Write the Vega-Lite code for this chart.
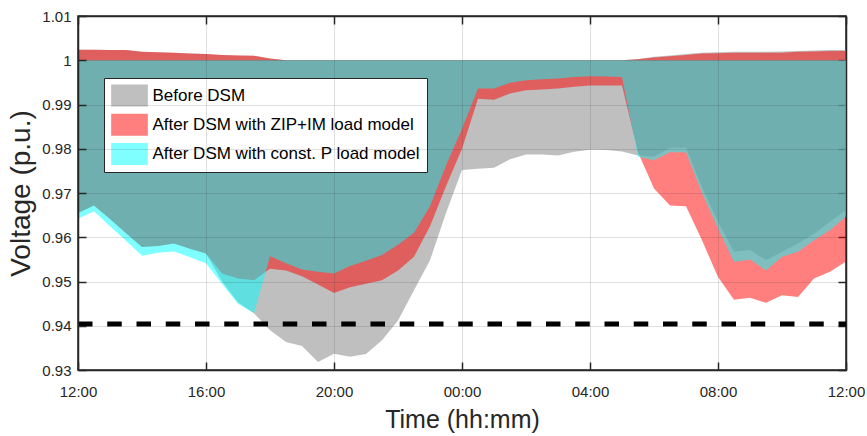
{
  "$schema": "https://vega.github.io/schema/vega-lite/v6.json",
  "width": 768,
  "height": 354,
  "autosize": {"type": "none"},
  "padding": {"left": 78, "top": 16, "right": 21, "bottom": 66},
  "background": "white",
  "config": {
    "font": "Liberation Sans",
    "view": {"stroke": "#262626", "strokeWidth": 1.5},
    "axis": {
      "labelFont": "Liberation Sans",
      "titleFont": "Liberation Sans",
      "labelColor": "#262626",
      "titleColor": "#262626",
      "titleFontWeight": "normal",
      "domainColor": "#262626",
      "domainWidth": 1.5,
      "tickColor": "#262626",
      "tickWidth": 1.5,
      "gridColor": "#262626",
      "gridOpacity": 0.15,
      "gridWidth": 1
    }
  },
  "data": {
    "values": [
      {"t": "2020-01-01T12:00", "before_lo": 0.9655, "before_hi": 1.0024, "zip_lo": 0.9655, "zip_hi": 1.0024, "constp_lo": 0.9642, "constp_hi": 1},
      {"t": "2020-01-01T12:30", "before_lo": 0.9672, "before_hi": 1.0024, "zip_lo": 0.9672, "zip_hi": 1.0024, "constp_lo": 0.9659, "constp_hi": 1},
      {"t": "2020-01-01T13:00", "before_lo": 0.9641, "before_hi": 1.0023, "zip_lo": 0.9641, "zip_hi": 1.0023, "constp_lo": 0.9625, "constp_hi": 1},
      {"t": "2020-01-01T13:30", "before_lo": 0.9609, "before_hi": 1.0023, "zip_lo": 0.9609, "zip_hi": 1.0023, "constp_lo": 0.9592, "constp_hi": 1},
      {"t": "2020-01-01T14:00", "before_lo": 0.9578, "before_hi": 1.0019, "zip_lo": 0.9578, "zip_hi": 1.0019, "constp_lo": 0.9558, "constp_hi": 1},
      {"t": "2020-01-01T14:30", "before_lo": 0.9580, "before_hi": 1.0018, "zip_lo": 0.9580, "zip_hi": 1.0018, "constp_lo": 0.9565, "constp_hi": 1},
      {"t": "2020-01-01T15:00", "before_lo": 0.9586, "before_hi": 1.0017, "zip_lo": 0.9586, "zip_hi": 1.0017, "constp_lo": 0.9568, "constp_hi": 1},
      {"t": "2020-01-01T15:30", "before_lo": 0.9574, "before_hi": 1.0015, "zip_lo": 0.9574, "zip_hi": 1.0015, "constp_lo": 0.9555, "constp_hi": 1},
      {"t": "2020-01-01T16:00", "before_lo": 0.9563, "before_hi": 1.0014, "zip_lo": 0.9563, "zip_hi": 1.0014, "constp_lo": 0.9541, "constp_hi": 1},
      {"t": "2020-01-01T16:30", "before_lo": 0.9500, "before_hi": 1.0012, "zip_lo": 0.9518, "zip_hi": 1.0012, "constp_lo": 0.9495, "constp_hi": 1},
      {"t": "2020-01-01T17:00", "before_lo": 0.9453, "before_hi": 1.0011, "zip_lo": 0.9507, "zip_hi": 1.0011, "constp_lo": 0.9450, "constp_hi": 1},
      {"t": "2020-01-01T17:30", "before_lo": 0.9428, "before_hi": 1.0010, "zip_lo": 0.9503, "zip_hi": 1.0010, "constp_lo": 0.9428, "constp_hi": 1},
      {"t": "2020-01-01T18:00", "before_lo": 0.9390, "before_hi": 1.0004, "zip_lo": 0.9529, "zip_hi": 1.0004, "constp_lo": 0.9557, "constp_hi": 1},
      {"t": "2020-01-01T18:30", "before_lo": 0.9363, "before_hi": 1.0000, "zip_lo": 0.9525, "zip_hi": 1.0000, "constp_lo": 0.9541, "constp_hi": 1},
      {"t": "2020-01-01T19:00", "before_lo": 0.9354, "before_hi": 1, "zip_lo": 0.9512, "zip_hi": 1, "constp_lo": 0.9527, "constp_hi": 1},
      {"t": "2020-01-01T19:30", "before_lo": 0.9318, "before_hi": 1, "zip_lo": 0.9493, "zip_hi": 1, "constp_lo": 0.9522, "constp_hi": 1},
      {"t": "2020-01-01T20:00", "before_lo": 0.9337, "before_hi": 1, "zip_lo": 0.9474, "zip_hi": 1, "constp_lo": 0.9518, "constp_hi": 1},
      {"t": "2020-01-01T20:30", "before_lo": 0.9330, "before_hi": 1, "zip_lo": 0.9487, "zip_hi": 1, "constp_lo": 0.9535, "constp_hi": 1},
      {"t": "2020-01-01T21:00", "before_lo": 0.9336, "before_hi": 1, "zip_lo": 0.9495, "zip_hi": 1, "constp_lo": 0.9547, "constp_hi": 1},
      {"t": "2020-01-01T21:30", "before_lo": 0.9367, "before_hi": 1, "zip_lo": 0.9503, "zip_hi": 1, "constp_lo": 0.9560, "constp_hi": 1},
      {"t": "2020-01-01T22:00", "before_lo": 0.9412, "before_hi": 1, "zip_lo": 0.9525, "zip_hi": 1, "constp_lo": 0.9583, "constp_hi": 1},
      {"t": "2020-01-01T22:30", "before_lo": 0.9480, "before_hi": 1, "zip_lo": 0.9556, "zip_hi": 1, "constp_lo": 0.9610, "constp_hi": 1},
      {"t": "2020-01-01T23:00", "before_lo": 0.9548, "before_hi": 1, "zip_lo": 0.9625, "zip_hi": 1, "constp_lo": 0.9670, "constp_hi": 1},
      {"t": "2020-01-01T23:30", "before_lo": 0.9655, "before_hi": 1, "zip_lo": 0.9715, "zip_hi": 1, "constp_lo": 0.9762, "constp_hi": 1},
      {"t": "2020-01-02T00:00", "before_lo": 0.9752, "before_hi": 1, "zip_lo": 0.9800, "zip_hi": 1, "constp_lo": 0.9845, "constp_hi": 1},
      {"t": "2020-01-02T00:30", "before_lo": 0.9755, "before_hi": 1, "zip_lo": 0.9913, "zip_hi": 1, "constp_lo": 0.9936, "constp_hi": 1},
      {"t": "2020-01-02T01:00", "before_lo": 0.9757, "before_hi": 1, "zip_lo": 0.9911, "zip_hi": 1, "constp_lo": 0.9936, "constp_hi": 1},
      {"t": "2020-01-02T01:30", "before_lo": 0.9776, "before_hi": 1, "zip_lo": 0.9925, "zip_hi": 1, "constp_lo": 0.9949, "constp_hi": 1},
      {"t": "2020-01-02T02:00", "before_lo": 0.9787, "before_hi": 1, "zip_lo": 0.9932, "zip_hi": 1, "constp_lo": 0.9955, "constp_hi": 1},
      {"t": "2020-01-02T02:30", "before_lo": 0.9787, "before_hi": 1, "zip_lo": 0.9934, "zip_hi": 1, "constp_lo": 0.9957, "constp_hi": 1},
      {"t": "2020-01-02T03:00", "before_lo": 0.9785, "before_hi": 1, "zip_lo": 0.9936, "zip_hi": 1, "constp_lo": 0.9959, "constp_hi": 1},
      {"t": "2020-01-02T03:30", "before_lo": 0.9793, "before_hi": 1, "zip_lo": 0.9940, "zip_hi": 1, "constp_lo": 0.9962, "constp_hi": 1},
      {"t": "2020-01-02T04:00", "before_lo": 0.9798, "before_hi": 1, "zip_lo": 0.9943, "zip_hi": 1, "constp_lo": 0.9964, "constp_hi": 1},
      {"t": "2020-01-02T04:30", "before_lo": 0.9797, "before_hi": 1, "zip_lo": 0.9943, "zip_hi": 1, "constp_lo": 0.9963, "constp_hi": 1},
      {"t": "2020-01-02T05:00", "before_lo": 0.9794, "before_hi": 1, "zip_lo": 0.9943, "zip_hi": 1, "constp_lo": 0.9962, "constp_hi": 1},
      {"t": "2020-01-02T05:30", "before_lo": 0.9785, "before_hi": 1.0003, "zip_lo": 0.9792, "zip_hi": 1.0002, "constp_lo": 0.9782, "constp_hi": 1},
      {"t": "2020-01-02T06:00", "before_lo": 0.9782, "before_hi": 1.0008, "zip_lo": 0.9710, "zip_hi": 1.0006, "constp_lo": 0.9774, "constp_hi": 1},
      {"t": "2020-01-02T06:30", "before_lo": 0.9802, "before_hi": 1.0011, "zip_lo": 0.9672, "zip_hi": 1.0009, "constp_lo": 0.9792, "constp_hi": 1},
      {"t": "2020-01-02T07:00", "before_lo": 0.9802, "before_hi": 1.0014, "zip_lo": 0.9670, "zip_hi": 1.0012, "constp_lo": 0.9792, "constp_hi": 1},
      {"t": "2020-01-02T07:30", "before_lo": 0.9712, "before_hi": 1.0017, "zip_lo": 0.9593, "zip_hi": 1.0015, "constp_lo": 0.9700, "constp_hi": 1},
      {"t": "2020-01-02T08:00", "before_lo": 0.9635, "before_hi": 1.0018, "zip_lo": 0.9510, "zip_hi": 1.0016, "constp_lo": 0.9620, "constp_hi": 1},
      {"t": "2020-01-02T08:30", "before_lo": 0.9567, "before_hi": 1.0019, "zip_lo": 0.9459, "zip_hi": 1.0017, "constp_lo": 0.9544, "constp_hi": 1},
      {"t": "2020-01-02T09:00", "before_lo": 0.9571, "before_hi": 1.0019, "zip_lo": 0.9463, "zip_hi": 1.0017, "constp_lo": 0.9550, "constp_hi": 1},
      {"t": "2020-01-02T09:30", "before_lo": 0.9548, "before_hi": 1.0019, "zip_lo": 0.9452, "zip_hi": 1.0017, "constp_lo": 0.9525, "constp_hi": 1},
      {"t": "2020-01-02T10:00", "before_lo": 0.9567, "before_hi": 1.0020, "zip_lo": 0.9469, "zip_hi": 1.0017, "constp_lo": 0.9556, "constp_hi": 1},
      {"t": "2020-01-02T10:30", "before_lo": 0.9586, "before_hi": 1.0021, "zip_lo": 0.9465, "zip_hi": 1.0019, "constp_lo": 0.9567, "constp_hi": 1},
      {"t": "2020-01-02T11:00", "before_lo": 0.9608, "before_hi": 1.0022, "zip_lo": 0.9507, "zip_hi": 1.0020, "constp_lo": 0.9593, "constp_hi": 1},
      {"t": "2020-01-02T11:30", "before_lo": 0.9635, "before_hi": 1.0023, "zip_lo": 0.9522, "zip_hi": 1.0021, "constp_lo": 0.9616, "constp_hi": 1},
      {"t": "2020-01-02T12:00", "before_lo": 0.9661, "before_hi": 1.0023, "zip_lo": 0.9545, "zip_hi": 1.0021, "constp_lo": 0.9647, "constp_hi": 1}
    ]
  },
  "resolve": {"axis": {"x": "independent", "y": "independent"}},
  "layer": [
    {
      "layer": [
        {
          "mark": {"type": "area", "opacity": 0.5},
          "encoding": {
            "x": {
              "field": "t", "type": "temporal",
              "scale": {"domain": [{"year": 2020, "month": 1, "date": 1, "hours": 12}, {"year": 2020, "month": 1, "date": 2, "hours": 12}], "nice": false},
              "axis": {
                "title": "Time (hh:mm)", "format": "%H:%M",
                "values": [
                  {"year": 2020, "month": 1, "date": 1, "hours": 12},
                  {"year": 2020, "month": 1, "date": 1, "hours": 16},
                  {"year": 2020, "month": 1, "date": 1, "hours": 20},
                  {"year": 2020, "month": 1, "date": 2, "hours": 0},
                  {"year": 2020, "month": 1, "date": 2, "hours": 4},
                  {"year": 2020, "month": 1, "date": 2, "hours": 8},
                  {"year": 2020, "month": 1, "date": 2, "hours": 12}
                ],
                "grid": true, "zindex": 1, "tickSize": -8, "labelPadding": 22, "labelFlush": false,
                "labelFontSize": 15, "titleFontSize": 25, "titlePadding": 8
              }
            },
            "y": {
              "field": "before_lo", "type": "quantitative",
              "scale": {"domain": [0.93, 1.01], "nice": false, "zero": false},
              "axis": {
                "title": "Voltage (p.u.)", "values": [0.93, 0.94, 0.95, 0.96, 0.97, 0.98, 0.99, 1, 1.01],
                "format": ".2~f", "grid": true, "zindex": 1, "tickSize": -8, "labelPadding": 15,
                "labelFontSize": 15, "titleFontSize": 28, "titlePadding": 6
              }
            },
            "y2": {"field": "before_hi"},
            "color": {
              "datum": "Before DSM",
              "scale": {
                "domain": ["Before DSM", "After DSM with ZIP+IM load model", "After DSM with const. P load model"],
                "range": ["#808080", "#ff0000", "#00ffff"]
              },
              "legend": {
                "title": null, "orient": "none", "legendX": 26, "legendY": 62, "direction": "vertical",
                "fillColor": "white", "strokeColor": "#262626", "cornerRadius": 0,
                "padding": 6.5, "rowPadding": 7.3,
                "symbolType": "M-1.667,-1H1.667V1H-1.667Z", "symbolSize": 484, "symbolStrokeWidth": 0,
                "symbolOpacity": 0.5, "symbolOffset": 8, "labelOffset": 12,
                "labelFont": "Liberation Sans", "labelFontSize": 17, "labelColor": "#000000", "labelLimit": 500
              }
            }
          }
        },
        {
          "mark": {"type": "area", "opacity": 0.5},
          "encoding": {
            "x": {"field": "t", "type": "temporal"},
            "y": {"field": "zip_lo", "type": "quantitative"},
            "y2": {"field": "zip_hi"},
            "color": {"datum": "After DSM with ZIP+IM load model"}
          }
        },
        {
          "mark": {"type": "area", "opacity": 0.5},
          "encoding": {
            "x": {"field": "t", "type": "temporal"},
            "y": {"field": "constp_lo", "type": "quantitative"},
            "y2": {"field": "constp_hi"},
            "color": {"datum": "After DSM with const. P load model"}
          }
        }
      ]
    },
    {
      "data": {"values": [{"start": "2020-01-01T12:00", "end": "2020-01-02T12:00", "limit": 0.9404}]},
      "mark": {"type": "rule", "color": "#000000", "strokeWidth": 5, "strokeDash": [14.5, 14.75]},
      "encoding": {
        "x": {
          "field": "start", "type": "temporal",
          "axis": {
            "orient": "top", "title": null, "labels": false, "grid": false, "tickSize": -8,
            "values": [
              {"year": 2020, "month": 1, "date": 1, "hours": 12},
              {"year": 2020, "month": 1, "date": 1, "hours": 16},
              {"year": 2020, "month": 1, "date": 1, "hours": 20},
              {"year": 2020, "month": 1, "date": 2, "hours": 0},
              {"year": 2020, "month": 1, "date": 2, "hours": 4},
              {"year": 2020, "month": 1, "date": 2, "hours": 8},
              {"year": 2020, "month": 1, "date": 2, "hours": 12}
            ]
          }
        },
        "x2": {"field": "end"},
        "y": {
          "field": "limit", "type": "quantitative",
          "axis": {"orient": "right", "title": null, "labels": false, "grid": false, "tickSize": -8,
            "values": [0.93, 0.94, 0.95, 0.96, 0.97, 0.98, 0.99, 1, 1.01]}
        }
      }
    }
  ]
}
